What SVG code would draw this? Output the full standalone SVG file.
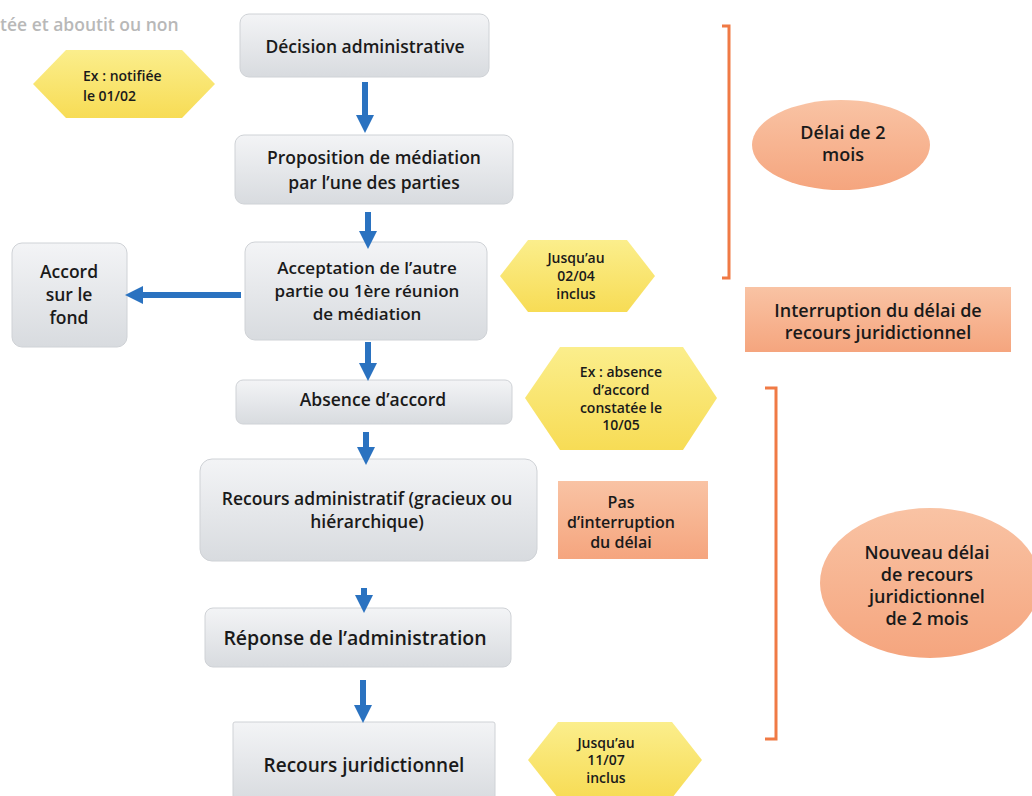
<svg xmlns="http://www.w3.org/2000/svg" width="1032" height="796" viewBox="0 0 1032 796">
<defs>
<linearGradient id="g" x1="0" y1="0" x2="0" y2="1">
<stop offset="0" stop-color="#f3f4f6"/>
<stop offset="1" stop-color="#d8dbdf"/>
</linearGradient>
<linearGradient id="y" x1="0" y1="0" x2="0" y2="1">
<stop offset="0" stop-color="#fbee8c"/>
<stop offset="1" stop-color="#f7dc55"/>
</linearGradient>
<linearGradient id="o" x1="0" y1="0" x2="0" y2="1">
<stop offset="0" stop-color="#f9c3a4"/>
<stop offset="1" stop-color="#f5a57e"/>
</linearGradient>
<marker id="ah" viewBox="0 0 10 10" refX="5" refY="5" markerWidth="3" markerHeight="3" orient="auto">
<path d="M0,0 L10,5 L0,10 Z" fill="#2a72c0"/>
</marker>
</defs>
<style>
text{font-family:"Open Sans","Liberation Sans",sans-serif;font-weight:600;fill:#1a1a1a;text-anchor:middle}
.box{fill:url(#g);stroke:#cfd2d6;stroke-width:1}
.hex{fill:url(#y)}
.org{fill:url(#o)}
.big{font-size:17.5px}
.sm{font-size:14px}
.om{font-size:18px}
.conn line{stroke:#2a72c0;stroke-width:6;marker-end:url(#ah)}
.br{fill:none;stroke:#f07a45;stroke-width:3}
</style>
<rect width="1032" height="796" fill="#ffffff"/>
<text x="0" y="31" style="text-anchor:start;font-size:17.5px;fill:#b8b8b8">tée et aboutit ou non</text>

<g id="n-decision"><rect class="box" x="240" y="14" width="249" height="63" rx="9"/><text class="big" x="365" y="53">Décision administrative</text></g>
<g id="n-proposition"><rect class="box" x="235" y="135" width="278" height="69" rx="9"/><text class="big" x="374" y="164">Proposition de médiation</text><text class="big" x="374" y="189">par l’une des parties</text></g>
<g id="n-acceptation"><rect class="box" x="245" y="242" width="242" height="98" rx="10"/><text x="367" y="274" style="font-size:17px">Acceptation de l’autre</text><text x="367" y="297" style="font-size:17px">partie ou 1ère réunion</text><text x="367" y="320" style="font-size:17px">de médiation</text></g>
<g id="n-accord"><rect class="box" x="12" y="243" width="115" height="104" rx="10"/><text class="big" x="69" y="278">Accord</text><text class="big" x="69" y="301">sur le</text><text class="big" x="69" y="324">fond</text></g>
<g id="n-absence"><rect class="box" x="236" y="380" width="276" height="44" rx="7"/><text class="big" x="373" y="406">Absence d’accord</text></g>
<g id="n-recours-admin"><rect class="box" x="200" y="459" width="337" height="102" rx="12"/><text class="big" x="367" y="505">Recours administratif (gracieux ou</text><text class="big" x="367" y="528">hiérarchique)</text></g>
<g id="n-reponse"><rect class="box" x="205" y="608" width="306" height="59" rx="8"/><text x="355" y="645" style="font-size:19.5px">Réponse de l’administration</text></g>
<g id="n-recours-jur"><rect class="box" x="233" y="722" width="262" height="80" rx="2"/><text x="364" y="772" style="font-size:19px">Recours juridictionnel</text></g>

<g id="h-notifiee"><polygon class="hex" points="33,84 66,50 182,50 215,84 182,118 66,118"/><text class="sm" x="83" y="81" style="text-anchor:start">Ex : notifiée</text><text class="sm" x="83" y="101" style="text-anchor:start">le 01/02</text></g>
<g id="h-jusqu0204"><polygon class="hex" points="500,276 528,240 627,240 655,276 627,312 528,312"/><text class="sm" x="576" y="263">Jusqu’au</text><text class="sm" x="576" y="281">02/04</text><text class="sm" x="576" y="299">inclus</text></g>
<g id="h-absence"><polygon class="hex" points="525,398 560,347 683,347 717,398 683,450 560,450"/><text class="sm" x="621" y="377">Ex : absence</text><text class="sm" x="621" y="395">d’accord</text><text class="sm" x="621" y="413">constatée le</text><text class="sm" x="621" y="430">10/05</text></g>
<g id="h-jusqu1107"><polygon class="hex" points="528,760 558,722 672,722 702,760 672,798 558,798"/><text class="sm" x="606" y="748">Jusqu’au</text><text class="sm" x="606" y="765">11/07</text><text class="sm" x="606" y="783">inclus</text></g>

<g id="e-delai"><ellipse class="org" cx="841" cy="145" rx="89" ry="45"/><text class="om" x="843" y="139">Délai de 2</text><text class="om" x="843" y="161">mois</text></g>
<g id="r-interruption"><rect class="org" x="745" y="287" width="266" height="65"/><text class="om" x="878" y="317">Interruption du délai de</text><text class="om" x="878" y="339">recours juridictionnel</text></g>
<g id="r-pas"><rect class="org" x="558" y="481" width="150" height="78"/><text x="621" y="508" style="font-size:16px">Pas</text><text x="621" y="528" style="font-size:16px">d’interruption</text><text x="621" y="548" style="font-size:16px">du délai</text></g>
<g id="e-nouveau"><ellipse class="org" cx="930" cy="583" rx="110" ry="75"/><text class="om" x="927" y="559">Nouveau délai</text><text class="om" x="927" y="581">de recours</text><text class="om" x="927" y="603">juridictionnel</text><text class="om" x="927" y="625">de 2 mois</text></g>

<g id="brackets">
<path class="br" d="M722,26 H729 V278 H722"/>
<path class="br" d="M765,388 H776 V739 H765"/>
</g>

<g class="conn" id="connectors">
<line x1="365" y1="82" x2="365" y2="124"/>
<line x1="368" y1="212" x2="368" y2="240"/>
<line x1="368" y1="342" x2="368" y2="372"/>
<line x1="366" y1="432" x2="366" y2="456"/>
<line x1="364" y1="588" x2="364" y2="604"/>
<line x1="363" y1="680" x2="363" y2="714"/>
<line x1="241" y1="295" x2="134" y2="295"/>
</g>
</svg>
